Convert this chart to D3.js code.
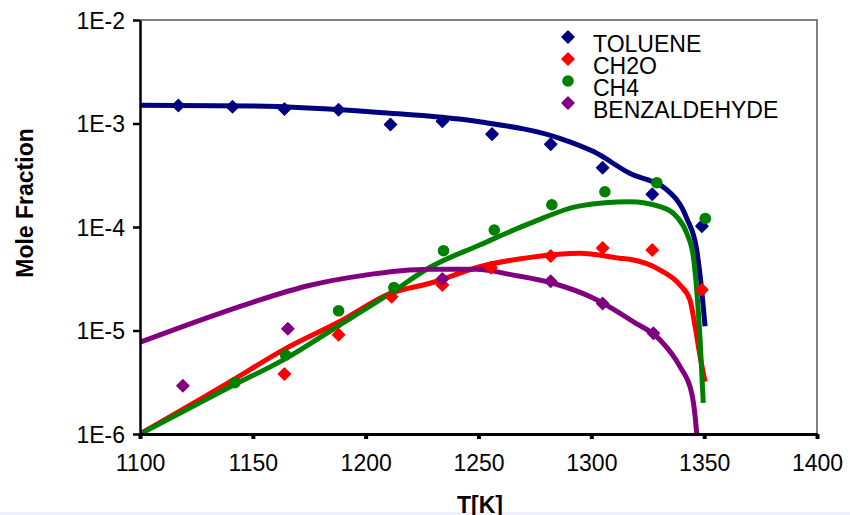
<!DOCTYPE html>
<html>
<head>
<meta charset="utf-8">
<script src="https://cdn.jsdelivr.net/npm/d3@7"></script>
<style>
  html, body { margin: 0; padding: 0; background: #fff; }
  svg { display: block; }
</style>
</head>
<body>
<svg id="chart" width="850" height="515"></svg>
<script>
// measured points (markers)
const tolueneT = [1117, 1141, 1164, 1188, 1211, 1234, 1256, 1282, 1305, 1327, 1349]
const tolueneX = [1.49e-3, 1.45e-3, 1.38e-3, 1.36e-3, 9.8e-4, 1.05e-3, 7.9e-4, 6.3e-4, 3.74e-4, 2.07e-4, 1.02e-4]

const ch2oT = [1164, 1188, 1211.5, 1234, 1255.5, 1282, 1305, 1327, 1349]
const ch2oX = [3.8e-6, 9.1e-6, 2.12e-5, 2.75e-5, 4.05e-5, 5.25e-5, 6.27e-5, 6.0e-5, 2.48e-5]

const ch4T = [1142, 1164.5, 1188, 1212.5, 1234.5, 1257, 1282.5, 1306, 1329, 1350.5]
const ch4X = [3.13e-6, 5.8e-6, 1.55e-5, 2.6e-5, 5.9e-5, 9.35e-5, 1.64e-4, 2.19e-4, 2.68e-4, 1.21e-4]

const benzT = [1119, 1165.5, 1234, 1282, 1305, 1327.5]
const benzX = [2.93e-6, 1.04e-5, 3.15e-5, 2.99e-5, 1.82e-5, 9.4e-6]

// model curves (lines)
const tolueneModelT = [1100, 1150, 1206, 1249, 1286, 1301, 1317, 1333.5, 1342.3, 1346.7, 1348.9, 1350.4]
const tolueneModelX = [1.5e-3, 1.48e-3, 1.28e-3, 1.05e-3, 7.2e-4, 5.35e-4, 3.3e-4, 2.28e-4, 1.21e-4, 6.0e-5, 2.46e-5, 1.1e-5]

const ch2oModelT = [1100, 1140, 1163.5, 1188.5, 1211, 1228.5, 1250.5, 1273, 1295, 1312.5, 1317, 1330.5, 1339.3, 1343.7, 1346, 1348.2, 1350.4]
const ch2oModelX = [1e-6, 3.2e-6, 6.5e-6, 1.22e-5, 2.29e-5, 2.86e-5, 4.13e-5, 5.09e-5, 5.57e-5, 5.0e-5, 4.88e-5, 3.84e-5, 2.75e-5, 1.97e-5, 1.09e-5, 5.6e-6, 3.2e-6]

const ch4ModelT = [1100, 1140, 1163.5, 1188.5, 1211, 1228.5, 1250.5, 1273, 1295, 1317, 1330.5, 1337.8, 1342.3, 1345.2, 1346.7, 1348.2, 1349.6]
const ch4ModelX = [1e-6, 2.86e-6, 5.2e-6, 1.13e-5, 2.29e-5, 4.08e-5, 6.7e-5, 1.09e-4, 1.6e-4, 1.75e-4, 1.57e-4, 1.26e-4, 8.7e-5, 5.16e-5, 2.46e-5, 8.1e-6, 2.0e-6]

const benzModelT = [1100, 1125, 1149.5, 1174, 1199, 1228.5, 1249, 1265.5, 1283, 1301, 1318.5, 1330.5, 1339.3, 1344.5, 1346, 1346.7, 1347]
const benzModelX = [7.7e-6, 1.22e-5, 1.86e-5, 2.69e-5, 3.41e-5, 3.9e-5, 3.9e-5, 3.43e-5, 2.86e-5, 2.05e-5, 1.22e-5, 8.1e-6, 4.47e-6, 2.47e-6, 1.47e-6, 1.0e-6, 0.8e-6]

const seriesNames = ['TOLUENE', 'CH2O', 'CH4', 'BENZALDEHYDE']
const seriesColors = ['#000080', '#ff0000', '#008000', '#800080']
const seriesShapes = ['diamond', 'diamond', 'circle', 'diamond']

const xTicks = [1100, 1150, 1200, 1250, 1300, 1350, 1400]
const yTicks = [1e-6, 1e-5, 1e-4, 1e-3, 1e-2]

const zip = (t, v) => t.map((d, i) => ({ t: d, v: v[i] }))

const points = [
  zip(tolueneT, tolueneX),
  zip(ch2oT, ch2oX),
  zip(ch4T, ch4X),
  zip(benzT, benzX),
]
const models = [
  zip(tolueneModelT, tolueneModelX),
  zip(ch2oModelT, ch2oModelX),
  zip(ch4ModelT, ch4ModelX),
  zip(benzModelT, benzModelX),
]

const margin = { top: 20, left: 140, right: 33, bottom: 81 }
const width = 850, height = 515
const plotW = width - margin.left - margin.right
const plotH = height - margin.top - margin.bottom

const x = d3.scaleLinear().domain([1100, 1400]).range([0, plotW])
const y = d3.scaleLog().domain([1e-6, 1e-2]).range([plotH, 0])

const font = 'Arial, "Liberation Sans", sans-serif'
const svg = d3.select('#chart')

// faint strip at the bottom edge
svg.append('rect')
  .attr('x', 0).attr('y', 512).attr('width', width).attr('height', 3)
  .attr('fill', '#f0f0fb')

const g = svg.append('g')
  .attr('transform', `translate(${margin.left},${margin.top})`)

g.append('clipPath').attr('id', 'plotClip')
  .append('rect').attr('width', plotW).attr('height', plotH)

// grey top and right border
g.append('path')
  .attr('d', `M0,0H${plotW}V${plotH}`)
  .attr('fill', 'none')
  .attr('stroke', '#808080')
  .attr('stroke-width', 2)

// model lines
const line = d3.line()
  .x((d) => x(d.t))
  .y((d) => y(d.v))
  .curve(d3.curveMonotoneX)

g.append('g')
  .attr('clip-path', 'url(#plotClip)')
  .selectAll('path')
  .data(models)
  .join('path')
  .attr('d', line)
  .attr('fill', 'none')
  .attr('stroke', (d, i) => seriesColors[i])
  .attr('stroke-width', 5)
  .attr('stroke-linejoin', 'round')

// axes
const yAxis = g.append('g')
  .call(d3.axisLeft(y)
    .tickValues(yTicks)
    .tickFormat((d) => '1E' + Math.round(Math.log10(d)))
    .tickSize(7)
    .tickSizeOuter(0)
    .tickPadding(8))
yAxis.select('.domain').attr('stroke', '#000').attr('stroke-width', 2.5)
yAxis.selectAll('.tick line').attr('stroke', '#000').attr('stroke-width', 2.5)
yAxis.selectAll('text')
  .attr('font-family', font)
  .attr('font-size', 23)
  .attr('fill', '#000')
  .attr('dy', '0.35em')

const xAxis = g.append('g')
  .attr('transform', `translate(0,${plotH})`)
  .call(d3.axisBottom(x)
    .tickValues(xTicks)
    .tickFormat(d3.format('d'))
    .tickSize(5)
    .tickSizeOuter(0))
xAxis.select('.domain').attr('stroke', '#000').attr('stroke-width', 3)
xAxis.selectAll('.tick line').attr('stroke', '#000').attr('stroke-width', 4)
xAxis.selectAll('text')
  .attr('font-family', font)
  .attr('font-size', 23)
  .attr('fill', '#000')
  .attr('y', 21)
  .attr('dy', '0.71em')

// markers
const diamond = 'M0,-6L6,0L0,6L-6,0Z'
function drawMarker(sel, shape, color) {
  if (shape === 'circle') {
    sel.append('circle').attr('r', 5.8).attr('fill', color)
  } else {
    sel.append('path').attr('d', diamond).attr('fill', color)
      .attr('stroke', color).attr('stroke-width', 1.5).attr('stroke-linejoin', 'round')
  }
}

points.forEach((pts, i) => {
  const m = g.append('g')
    .selectAll('g')
    .data(pts)
    .join('g')
    .attr('transform', (d) => `translate(${x(d.t)},${y(d.v)})`)
  drawMarker(m, seriesShapes[i], seriesColors[i])
})

// axis titles
svg.append('text')
  .attr('x', 480).attr('y', 513)
  .attr('text-anchor', 'middle')
  .attr('font-family', font)
  .attr('font-weight', 'bold')
  .attr('font-size', 23)
  .text('T[K]')

svg.append('text')
  .attr('transform', 'translate(33,203) rotate(-90)')
  .attr('text-anchor', 'middle')
  .attr('font-family', font)
  .attr('font-weight', 'bold')
  .attr('font-size', 23)
  .text('Mole Fraction')

// legend
const legend = svg.append('g').attr('transform', 'translate(568,37)')
const items = legend.selectAll('g')
  .data(seriesNames)
  .join('g')
  .attr('transform', (d, i) => `translate(0,${i * 22})`)
items.each(function (d, i) {
  drawMarker(d3.select(this), seriesShapes[i], seriesColors[i])
})
items.append('text')
  .attr('x', 25)
  .attr('y', 15)
  .attr('font-family', font)
  .attr('font-size', 23)
  .attr('fill', '#000')
  .text((d) => d)
</script>
</body>
</html>
